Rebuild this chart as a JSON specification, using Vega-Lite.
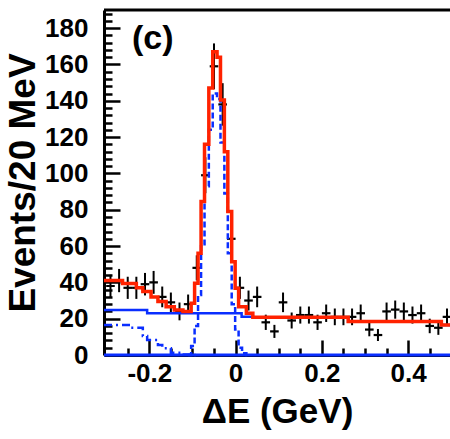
{
  "$schema": "https://vega.github.io/schema/vega-lite/v6.json",
  "width": 346,
  "height": 345,
  "autosize": {"type": "none"},
  "padding": {"left": 104, "top": 10, "right": 0, "bottom": 84},
  "background": "white",
  "config": {"view": {"stroke": null}, "font": "Liberation Sans"},
  "resolve": {"axis": {"x": "independent", "y": "independent"}},
  "datasets": {
    "points": [
      {"e": -0.29, "n": 38, "lo": 31.8, "hi": 44.2},
      {"e": -0.27, "n": 41, "lo": 34.6, "hi": 47.4},
      {"e": -0.25, "n": 37, "lo": 30.9, "hi": 43.1},
      {"e": -0.23, "n": 37, "lo": 30.9, "hi": 43.1},
      {"e": -0.21, "n": 39, "lo": 32.8, "hi": 45.2},
      {"e": -0.19, "n": 40, "lo": 33.7, "hi": 46.3},
      {"e": -0.17, "n": 32, "lo": 26.3, "hi": 37.7},
      {"e": -0.15, "n": 29, "lo": 23.6, "hi": 34.4},
      {"e": -0.13, "n": 24, "lo": 19.1, "hi": 28.9},
      {"e": -0.11, "n": 28, "lo": 22.7, "hi": 33.3},
      {"e": -0.09, "n": 48, "lo": 41.1, "hi": 54.9},
      {"e": -0.07, "n": 99, "lo": 89.1, "hi": 108.9},
      {"e": -0.05, "n": 159, "lo": 146.4, "hi": 171.6},
      {"e": -0.03, "n": 138, "lo": 126.3, "hi": 149.7},
      {"e": -0.01, "n": 64, "lo": 56, "hi": 72},
      {"e": 0.01, "n": 37, "lo": 30.9, "hi": 43.1},
      {"e": 0.03, "n": 30, "lo": 24.5, "hi": 35.5},
      {"e": 0.05, "n": 32, "lo": 26.3, "hi": 37.7},
      {"e": 0.07, "n": 18, "lo": 13.8, "hi": 22.2},
      {"e": 0.09, "n": 13, "lo": 9.4, "hi": 16.6},
      {"e": 0.11, "n": 29, "lo": 23.6, "hi": 34.4},
      {"e": 0.13, "n": 19, "lo": 14.6, "hi": 23.4},
      {"e": 0.15, "n": 22, "lo": 17.3, "hi": 26.7},
      {"e": 0.17, "n": 22, "lo": 17.3, "hi": 26.7},
      {"e": 0.19, "n": 18, "lo": 13.8, "hi": 22.2},
      {"e": 0.21, "n": 23, "lo": 18.2, "hi": 27.8},
      {"e": 0.23, "n": 21, "lo": 16.4, "hi": 25.6},
      {"e": 0.25, "n": 21, "lo": 16.4, "hi": 25.6},
      {"e": 0.27, "n": 21, "lo": 16.4, "hi": 25.6},
      {"e": 0.29, "n": 23, "lo": 18.2, "hi": 27.8},
      {"e": 0.31, "n": 14, "lo": 10.3, "hi": 17.7},
      {"e": 0.33, "n": 11, "lo": 7.7, "hi": 14.3},
      {"e": 0.35, "n": 24, "lo": 19.1, "hi": 28.9},
      {"e": 0.37, "n": 25, "lo": 20, "hi": 30},
      {"e": 0.39, "n": 24, "lo": 19.1, "hi": 28.9},
      {"e": 0.41, "n": 22, "lo": 17.3, "hi": 26.7},
      {"e": 0.43, "n": 23, "lo": 18.2, "hi": 27.8},
      {"e": 0.45, "n": 16, "lo": 12, "hi": 20},
      {"e": 0.47, "n": 15, "lo": 11.1, "hi": 18.9},
      {"e": 0.49, "n": 21, "lo": 16.4, "hi": 25.6}
    ],
    "fit": [
      {"e": -0.305, "v": 41},
      {"e": -0.262, "v": 39.4},
      {"e": -0.23, "v": 37},
      {"e": -0.215, "v": 35},
      {"e": -0.196, "v": 32},
      {"e": -0.18, "v": 29.4},
      {"e": -0.161, "v": 26.6},
      {"e": -0.142, "v": 24.8},
      {"e": -0.122, "v": 24},
      {"e": -0.103, "v": 28.5},
      {"e": -0.095, "v": 39.5},
      {"e": -0.087, "v": 56},
      {"e": -0.08, "v": 84.5},
      {"e": -0.072, "v": 116},
      {"e": -0.062, "v": 147},
      {"e": -0.053, "v": 167},
      {"e": -0.043, "v": 164},
      {"e": -0.035, "v": 140.5},
      {"e": -0.026, "v": 112},
      {"e": -0.018, "v": 79},
      {"e": -0.009, "v": 51.4},
      {"e": -0.001, "v": 36.7},
      {"e": 0.007, "v": 26.6},
      {"e": 0.025, "v": 23},
      {"e": 0.04, "v": 20.8},
      {"e": 0.261, "v": 18.4},
      {"e": 0.477, "v": 16.5},
      {"e": 0.497, "v": 16.5}
    ],
    "signal": [
      {"e": -0.11, "v": 0},
      {"e": -0.103, "v": 5},
      {"e": -0.095, "v": 16},
      {"e": -0.087, "v": 33},
      {"e": -0.08, "v": 61},
      {"e": -0.072, "v": 93},
      {"e": -0.062, "v": 124},
      {"e": -0.053, "v": 144},
      {"e": -0.043, "v": 141},
      {"e": -0.035, "v": 117},
      {"e": -0.026, "v": 89},
      {"e": -0.018, "v": 56},
      {"e": -0.009, "v": 28},
      {"e": -0.001, "v": 14},
      {"e": 0.007, "v": 4},
      {"e": 0.015, "v": 1},
      {"e": 0.025, "v": 0},
      {"e": 0.03, "v": 0}
    ],
    "peaking": [
      {"e": -0.305, "v": 16.5},
      {"e": -0.242, "v": 15},
      {"e": -0.215, "v": 10.5},
      {"e": -0.205, "v": 8.3},
      {"e": -0.18, "v": 5.5},
      {"e": -0.17, "v": 3.7},
      {"e": -0.15, "v": 1.3},
      {"e": -0.12, "v": 0.3},
      {"e": -0.1, "v": 0},
      {"e": -0.09, "v": 0}
    ],
    "bkg": [
      {"e": -0.305, "v": 24.8},
      {"e": -0.205, "v": 23},
      {"e": 0.014, "v": 21},
      {"e": 0.04, "v": 20.8},
      {"e": 0.261, "v": 18.4},
      {"e": 0.477, "v": 16.5},
      {"e": 0.497, "v": 16.5}
    ]
  },
  "layer": [
    {
      "data": {"name": "points"},
      "mark": {"type": "rule", "color": "black", "strokeWidth": 2},
      "encoding": {
        "x": {
          "field": "e", "type": "quantitative",
          "scale": {"domain": [-0.305, 0.497], "nice": false, "zero": false},
          "axis": {
            "orient": "bottom",
            "title": "ΔE (GeV)",
            "values": [-0.2, 0, 0.2, 0.4],
            "tickSize": -15,
            "labelExpr": "'' + datum.value",
            "labelPadding": 20,
            "labelFontSize": 26, "labelFontWeight": "bold", "labelColor": "black",
            "labelOverlap": false, "labelFlush": false, "labelBound": false,
            "titleFontSize": 35, "titleFontWeight": "bold", "titleColor": "black", "titlePadding": 8,
            "domainColor": "black", "domainWidth": 3,
            "tickColor": "black", "tickWidth": 2.5, "grid": false
          }
        },
        "y": {
          "field": "lo", "type": "quantitative",
          "scale": {"domain": [0, 190], "nice": false, "zero": false},
          "axis": {
            "orient": "left",
            "title": "Events/20 MeV",
            "values": [0, 20, 40, 60, 80, 100, 120, 140, 160, 180],
            "tickSize": -16,
            "labelExpr": "'' + datum.value",
            "labelPadding": 32,
            "labelFontSize": 26, "labelFontWeight": "bold", "labelColor": "black",
            "labelOverlap": false, "labelFlush": false, "labelBound": false,
            "titleFontSize": 37, "titleFontWeight": "bold", "titleColor": "black", "titlePadding": 2,
            "domainColor": "black", "domainWidth": 3,
            "tickColor": "black", "tickWidth": 2.5, "grid": false
          }
        },
        "y2": {"field": "hi"}
      }
    },
    {
      "data": {"name": "points"},
      "mark": {"type": "tick", "orient": "horizontal", "color": "black", "size": 8.6, "thickness": 2.2, "opacity": 1},
      "encoding": {
        "x": {
          "field": "e", "type": "quantitative",
          "axis": {
            "orient": "bottom", "title": null, "labels": false, "domain": false, "grid": false,
            "values": [-0.25, -0.15, -0.1, -0.05, 0.05, 0.1, 0.15, 0.25, 0.3, 0.35, 0.45],
            "tickSize": -7, "tickColor": "black", "tickWidth": 2.5
          }
        },
        "y": {
          "field": "n", "type": "quantitative",
          "axis": {
            "orient": "left", "title": null, "labels": false, "domain": false, "grid": false,
            "values": [4, 8, 12, 16, 24, 28, 32, 36, 44, 48, 52, 56, 64, 68, 72, 76, 84, 88, 92, 96, 104, 108, 112, 116, 124, 128, 132, 136, 144, 148, 152, 156, 164, 168, 172, 176, 184, 188],
            "tickSize": -8, "tickColor": "black", "tickWidth": 2.5
          }
        }
      }
    },
    {
      "data": {"name": "bkg"},
      "mark": {"type": "line", "interpolate": "step-after", "color": "#0a2eff", "strokeWidth": 2.5},
      "encoding": {
        "x": {"field": "e", "type": "quantitative", "axis": null},
        "y": {"field": "v", "type": "quantitative", "axis": null}
      }
    },
    {
      "data": {"name": "peaking"},
      "mark": {"type": "line", "interpolate": "step-after", "color": "#0a2eff", "strokeWidth": 2.5, "strokeDash": [8, 4, 2, 4]},
      "encoding": {
        "x": {"field": "e", "type": "quantitative", "axis": null},
        "y": {"field": "v", "type": "quantitative", "axis": null}
      }
    },
    {
      "data": {"name": "signal"},
      "mark": {"type": "line", "interpolate": "step-after", "color": "#0a2eff", "strokeWidth": 2.5, "strokeDash": [6, 3]},
      "encoding": {
        "x": {"field": "e", "type": "quantitative", "axis": null},
        "y": {"field": "v", "type": "quantitative", "axis": null}
      }
    },
    {
      "data": {"values": [{"base": 0}]},
      "mark": {"type": "rule", "color": "#0a2eff", "strokeWidth": 3},
      "encoding": {"y": {"field": "base", "type": "quantitative", "axis": null}}
    },
    {
      "data": {"name": "fit"},
      "mark": {"type": "line", "interpolate": "step-after", "color": "#ff2200", "strokeWidth": 3.5},
      "encoding": {
        "x": {"field": "e", "type": "quantitative", "axis": null},
        "y": {"field": "v", "type": "quantitative", "axis": null}
      }
    },
    {
      "data": {"values": [{"top": 190}]},
      "mark": {"type": "rule", "color": "black", "strokeWidth": 3},
      "encoding": {"y": {"field": "top", "type": "quantitative", "axis": null}}
    },
    {
      "data": {"values": [{"t": "(c)"}]},
      "mark": {"type": "text", "align": "left", "baseline": "middle", "fontSize": 34, "fontWeight": "bold", "color": "black"},
      "encoding": {
        "x": {"datum": -0.24, "axis": null},
        "y": {"datum": 174, "axis": null},
        "text": {"field": "t"}
      }
    }
  ]
}
